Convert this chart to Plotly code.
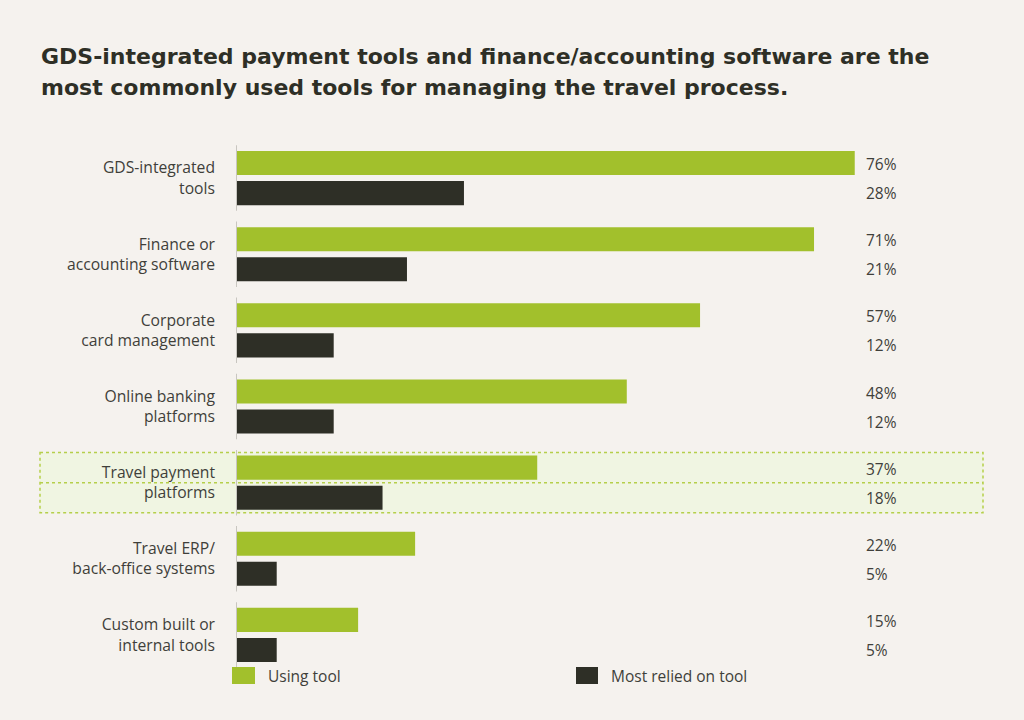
import plotly.graph_objects as go

categories = [
    "GDS-integrated<br>tools",
    "Finance or<br>accounting software",
    "Corporate<br>card management",
    "Online banking<br>platforms",
    "Travel payment<br>platforms",
    "Travel ERP/<br>back-office systems",
    "Custom built or<br>internal tools",
]
using_tool = [76, 71, 57, 48, 37, 22, 15]
most_relied = [28, 21, 12, 12, 18, 5, 5]
highlight = "Travel payment<br>platforms"

GREEN = "#a2c02c"
DARK = "#2e2f26"
BG = "#f5f2ee"
TEXT = "#3f3f3a"

# plot area in px
L, R, T, B = 236, 39, 140, 47
W, H = 1024, 720
PW, PH = W - L - R, H - T - B


def px_x(px):
    return (px - L) / PW


def px_y(px):
    return (H - B - px) / PH


fig = go.Figure()
fig.add_trace(go.Bar(
    y=categories, x=using_tool, orientation="h", name="Using tool",
    marker=dict(color=GREEN, line=dict(width=0)),
))
fig.add_trace(go.Bar(
    y=categories, x=most_relied, orientation="h", name="Most relied on tool",
    marker=dict(color=DARK, line=dict(width=0)),
))

shapes = []
annotations = []

# highlighted row
hi = categories.index(highlight)
shapes.append(dict(
    type="rect", layer="below", xref="paper", yref="y",
    x0=px_x(40), x1=px_x(983), y0=hi - 0.395, y1=hi + 0.395,
    fillcolor="#f0f5e2", line=dict(color="#b5cf4a", width=1.5, dash="dot"),
))
shapes.append(dict(
    type="line", layer="below", xref="paper", yref="y",
    x0=px_x(40), x1=px_x(983), y0=hi, y1=hi,
    line=dict(color="#b5cf4a", width=1.5, dash="dot"),
))

# grey axis segment per group
for i, _ in enumerate(categories):
    shapes.append(dict(
        type="line", layer="above", xref="x", yref="y",
        x0=0, x1=0, y0=i - 0.43, y1=i + 0.43,
        line=dict(color="#c8c6c0", width=2),
    ))

# value labels in a fixed column
for i, (a, b) in enumerate(zip(using_tool, most_relied)):
    for v, shift in ((a, 14), (b, -15)):
        annotations.append(dict(
            x=px_x(864), xref="paper", xanchor="left",
            y=categories[i], yref="y", yshift=shift, showarrow=False,
            text=f"{v}%", font=dict(size=15.5, color=TEXT),
        ))

# title
title_lines = [
    "GDS-integrated payment tools and finance/accounting software are the",
    "most commonly used tools for managing the travel process.",
]
for line, ypx in zip(title_lines, (56, 88)):
    annotations.append(dict(
        x=px_x(39), xref="paper", xanchor="left",
        y=px_y(ypx), yref="paper", yanchor="middle", showarrow=False,
        text=f"<b>{line}</b>",
        font=dict(family="DejaVu Sans", size=22, color=DARK),
    ))

# legend
for name, color, x0, x1, tx in (
    ("Using tool", GREEN, 232, 255, 266),
    ("Most relied on tool", DARK, 576, 598, 609),
):
    shapes.append(dict(
        type="rect", xref="paper", yref="paper",
        x0=px_x(x0), x1=px_x(x1), y0=px_y(684), y1=px_y(667),
        fillcolor=color, line=dict(width=0),
    ))
    annotations.append(dict(
        x=px_x(tx), xref="paper", xanchor="left",
        y=px_y(676), yref="paper", yanchor="middle", showarrow=False,
        text=name, font=dict(size=15.5, color=TEXT),
    ))

fig.update_layout(
    width=W, height=H,
    margin=dict(l=L, r=R, t=T, b=B),
    paper_bgcolor=BG, plot_bgcolor="rgba(0,0,0,0)",
    font=dict(family="Open Sans", size=15.5, color=TEXT),
    barmode="group", bargap=0.21, bargroupgap=0.2,
    showlegend=False,
    shapes=shapes, annotations=annotations,
    xaxis=dict(range=[0, 92], visible=False, fixedrange=True),
    yaxis=dict(
        autorange="reversed", showgrid=False, zeroline=False, showline=False,
        ticks="", ticklabelstandoff=20, tickfont=dict(size=15.7, color=TEXT),
        fixedrange=True,
    ),
)

fig.write_html(
    "out.html",
    config={"displayModeBar": False},
    post_script="document.body.style.margin='0';"
                "document.body.style.background='" + BG + "';",
)
